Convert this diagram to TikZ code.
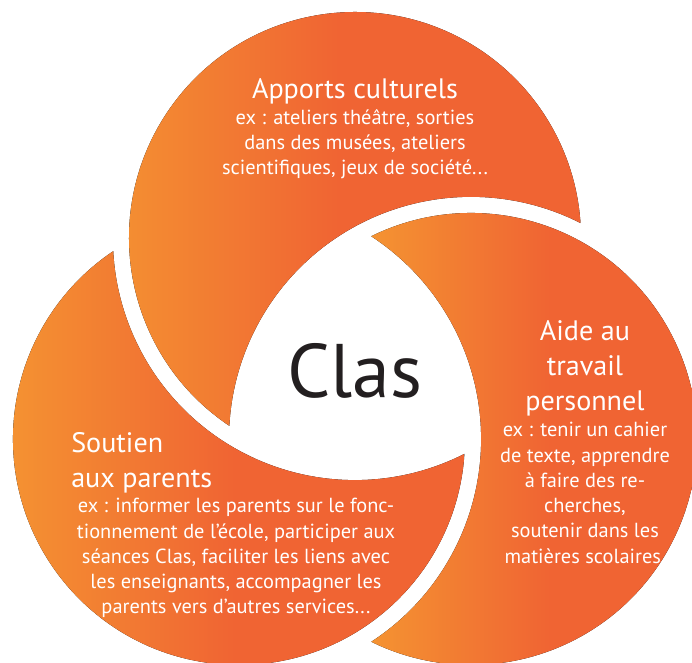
\documentclass[tikz,border=0pt]{standalone}
\usepackage{fontspec}
\setmainfont{PT Sans}
\usetikzlibrary{calc}
\definecolor{clasLight}{HTML}{F49332}
\definecolor{clasDark}{HTML}{F06433}
\definecolor{clasInk}{HTML}{231F20}
\tikzset{
  petal/.style={left color=clasLight, right color=clasDark, middle color=clasDark},
  petaltitle/.style={text=white, inner sep=0pt, font=\fontsize{20}{25}\selectfont},
  petaltext/.style={text=white, inner sep=0pt, align=center, font=\fontsize{14.5}{18}\selectfont},
}
\begin{document}
\begin{tikzpicture}[x=0.025cm, y=0.025cm]
  \useasboundingbox (0,0) rectangle (692,663);
  \clip (0,0) rectangle (692,663);
  \coordinate (centre) at (355,291);
  \coordinate (ctop) at ($(centre)+(90:134)$);
  \coordinate (cleft) at ($(centre)+(210:134)$);
  \coordinate (cright) at ($(centre)+(330:134)$);
  % three petals
  \fill[petal] ($(ctop)+(236.2:226)$) arc[start angle=236.2, end angle=3.8, radius=226]
    arc[start angle=63.1, end angle=176.9, radius=242] -- cycle;
  \fill[petal] ($(cleft)+(356.2:226)$) arc[start angle=356.2, end angle=123.8, radius=226]
    arc[start angle=183.1, end angle=296.9, radius=242] -- cycle;
  \fill[petal] ($(cright)+(116.2:226)$) arc[start angle=116.2, end angle=-116.2, radius=226]
    arc[start angle=-56.9, end angle=56.9, radius=242] -- cycle;
  % texts
  \node[text=clasInk, inner sep=0pt, anchor=base, font=\fontsize{54}{60}\selectfont] (clas) at (355,265) {Clas};
  \node[petaltitle, anchor=base] (apports) at (355,564) {Apports culturels};
  \node[petaltext, anchor=north] (apportsex) at (355,554) {ex : ateliers théâtre, sorties\\dans des musées, ateliers\\scientifiques, jeux de société...};
  \node[petaltitle, align=left, anchor=north west] (soutien) at (71,231) {Soutien\\aux parents};
  \node[petaltext, anchor=north] (soutienex) at (236,165) {ex : informer les parents sur le fonc-\\tionnement de l’école, participer aux\\séances Clas, faciliter les liens avec\\les enseignants, accompagner les\\parents vers d’autres services...};
  \node[petaltitle, align=center, anchor=north] (aide) at (585,343) {Aide au\\travail\\personnel};
  \node[petaltext, anchor=north] (aideex) at (585,241) {ex : tenir un cahier\\de texte, apprendre\\à faire des re-\\cherches,\\soutenir dans les\\matières scolaires.};
\end{tikzpicture}
\end{document}
